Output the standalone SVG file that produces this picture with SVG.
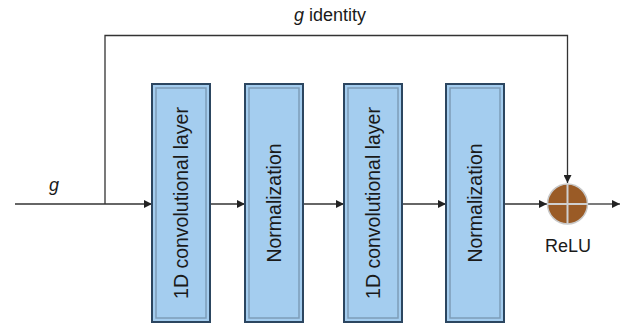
<svg xmlns="http://www.w3.org/2000/svg" width="639" height="326" viewBox="0 0 639 326">
  <style>
    .box-outer { fill: #a4cdef; stroke: #2c4660; stroke-width: 2; }
    .box-inner { fill: none; stroke: #7d9cb8; stroke-width: 1.5; }
    .box-label { font-family: "Liberation Sans", Arial, sans-serif; font-size: 19.5px; fill: #1a1a1a; text-anchor: middle; dominant-baseline: central; }
    .wire { fill: none; stroke: #333; stroke-width: 1.3; }
    .lbl { font-family: "Liberation Sans", Arial, sans-serif; font-size: 18px; fill: #1a1a1a; }
  </style>
  <defs>
    <marker id="arrow" viewBox="0 0 10 10" refX="10" refY="5" markerWidth="8" markerHeight="8" markerUnits="userSpaceOnUse" orient="auto">
      <path d="M0,0 L10,5 L0,10 z" fill="#222"/>
    </marker>
  </defs>

  <g id="connectors">
    <line class="wire" x1="15" y1="204" x2="152" y2="204" marker-end="url(#arrow)"/>
    <polyline class="wire" points="105,204 105,35.5 567.5,35.5 567.5,183" marker-end="url(#arrow)"/>
    <line class="wire" x1="210" y1="204" x2="245" y2="204" marker-end="url(#arrow)"/>
    <line class="wire" x1="303" y1="204" x2="344" y2="204" marker-end="url(#arrow)"/>
    <line class="wire" x1="402" y1="204" x2="446" y2="204" marker-end="url(#arrow)"/>
    <line class="wire" x1="504" y1="204" x2="547" y2="204" marker-end="url(#arrow)"/>
    <line class="wire" x1="588" y1="204" x2="620" y2="204" marker-end="url(#arrow)"/>
  </g>

  <g id="input-label">
    <text class="lbl" x="54" y="191" text-anchor="middle" font-style="italic">g</text>
  </g>
  <g id="identity-label">
    <text class="lbl" x="330" y="21" text-anchor="middle"><tspan font-style="italic">g</tspan> identity</text>
  </g>

  <g id="conv1">
    <rect class="box-outer" x="152" y="84" width="58" height="238"/>
    <rect class="box-inner" x="156" y="88" width="50" height="230"/>
    <text class="box-label" transform="translate(181,203) rotate(-90)">1D convolutional layer</text>
  </g>
  <g id="norm1">
    <rect class="box-outer" x="245" y="84" width="58" height="238"/>
    <rect class="box-inner" x="249" y="88" width="50" height="230"/>
    <text class="box-label" transform="translate(274,203) rotate(-90)">Normalization</text>
  </g>
  <g id="conv2">
    <rect class="box-outer" x="344" y="84" width="58" height="238"/>
    <rect class="box-inner" x="348" y="88" width="50" height="230"/>
    <text class="box-label" transform="translate(373,203) rotate(-90)">1D convolutional layer</text>
  </g>
  <g id="norm2">
    <rect class="box-outer" x="446" y="84" width="58" height="238"/>
    <rect class="box-inner" x="450" y="88" width="50" height="230"/>
    <text class="box-label" transform="translate(475,203) rotate(-90)">Normalization</text>
  </g>

  <g id="relu">
    <circle cx="567.5" cy="204" r="20" fill="#9a5b26" stroke="#c9c9c9" stroke-width="1.5"/>
    <line x1="547.5" y1="204" x2="587.5" y2="204" stroke="#cfcfcf" stroke-width="2"/>
    <line x1="567.5" y1="184" x2="567.5" y2="224" stroke="#cfcfcf" stroke-width="2"/>
    <text class="lbl" x="568" y="252" text-anchor="middle">ReLU</text>
  </g>
</svg>
